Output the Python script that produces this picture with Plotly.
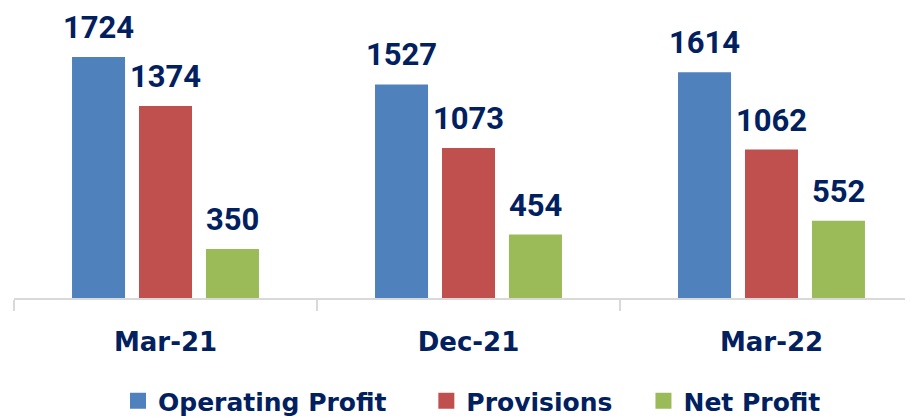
import plotly.graph_objects as go

categories = ["Mar-21", "Dec-21", "Mar-22"]
series_names = ["Operating Profit", "Provisions", "Net Profit"]
operating_profit = [1724, 1527, 1614]
provisions = [1374, 1073, 1062]
net_profit = [350, 454, 552]

colors = ["#4F81BD", "#C0504D", "#9BBB59"]
navy = "#002060"
series = [operating_profit, provisions, net_profit]
offsets = [-0.221, 0.0, 0.221]
bar_w = 0.175
nbsp = "\u00a0"
legend_pad = [4, 3, 0]

W, H = 905, 410  # page body adds an 8px margin

fig = go.Figure()
annotations = []
for name, vals, col, off in zip(series_names, series, colors, offsets):
    fig.add_trace(go.Bar(
        name=name, x=categories, y=vals, marker=dict(color=col, line=dict(width=0)),
        width=bar_w, offset=off - bar_w / 2, hoverinfo="y", showlegend=False,
    ))
    for i, v in enumerate(vals):
        annotations.append(dict(
            x=i + off, y=v, xref="x", yref="y", text=str(v), showarrow=False,
            yanchor="bottom", yshift=9,
            font=dict(family="Roboto", size=31, color=navy, weight="bold"),
        ))

# legend entries (square swatches)
for name, col, pad in zip(series_names, colors, legend_pad):
    fig.add_trace(go.Scatter(
        name=name + nbsp * pad, x=[None], y=[None], mode="markers",
        marker=dict(symbol="square", size=16, color=col, line=dict(width=0)),
        showlegend=True, hoverinfo="skip",
    ))

fig.update_layout(
    width=W, height=H,
    margin=dict(l=6, r=0, t=0, b=120, autoexpand=False),
    paper_bgcolor="white", plot_bgcolor="white",
    barmode="overlay",
    showlegend=True,
    legend=dict(orientation="h", xref="container", x=110 / W, xanchor="left",
                yref="container", y=1 - 393 / H, yanchor="middle",
                font=dict(family="DejaVu Sans", size=25, color=navy, weight="bold"),
                itemwidth=30, bgcolor="rgba(0,0,0,0)"),
    annotations=annotations,
    xaxis=dict(type="category", range=[-0.5, 2.467], showline=True, linecolor="#D9D9D9",
               linewidth=2, ticks="outside", tickson="boundaries", ticklen=11,
               tickcolor="#D9D9D9", tickwidth=2, showgrid=False, ticklabelstandoff=20,
               tickfont=dict(family="DejaVu Sans", size=26, color=navy, weight="bold")),
    yaxis=dict(range=[0, 2074], visible=False, showgrid=False),
)

fig.write_html("out.html")
